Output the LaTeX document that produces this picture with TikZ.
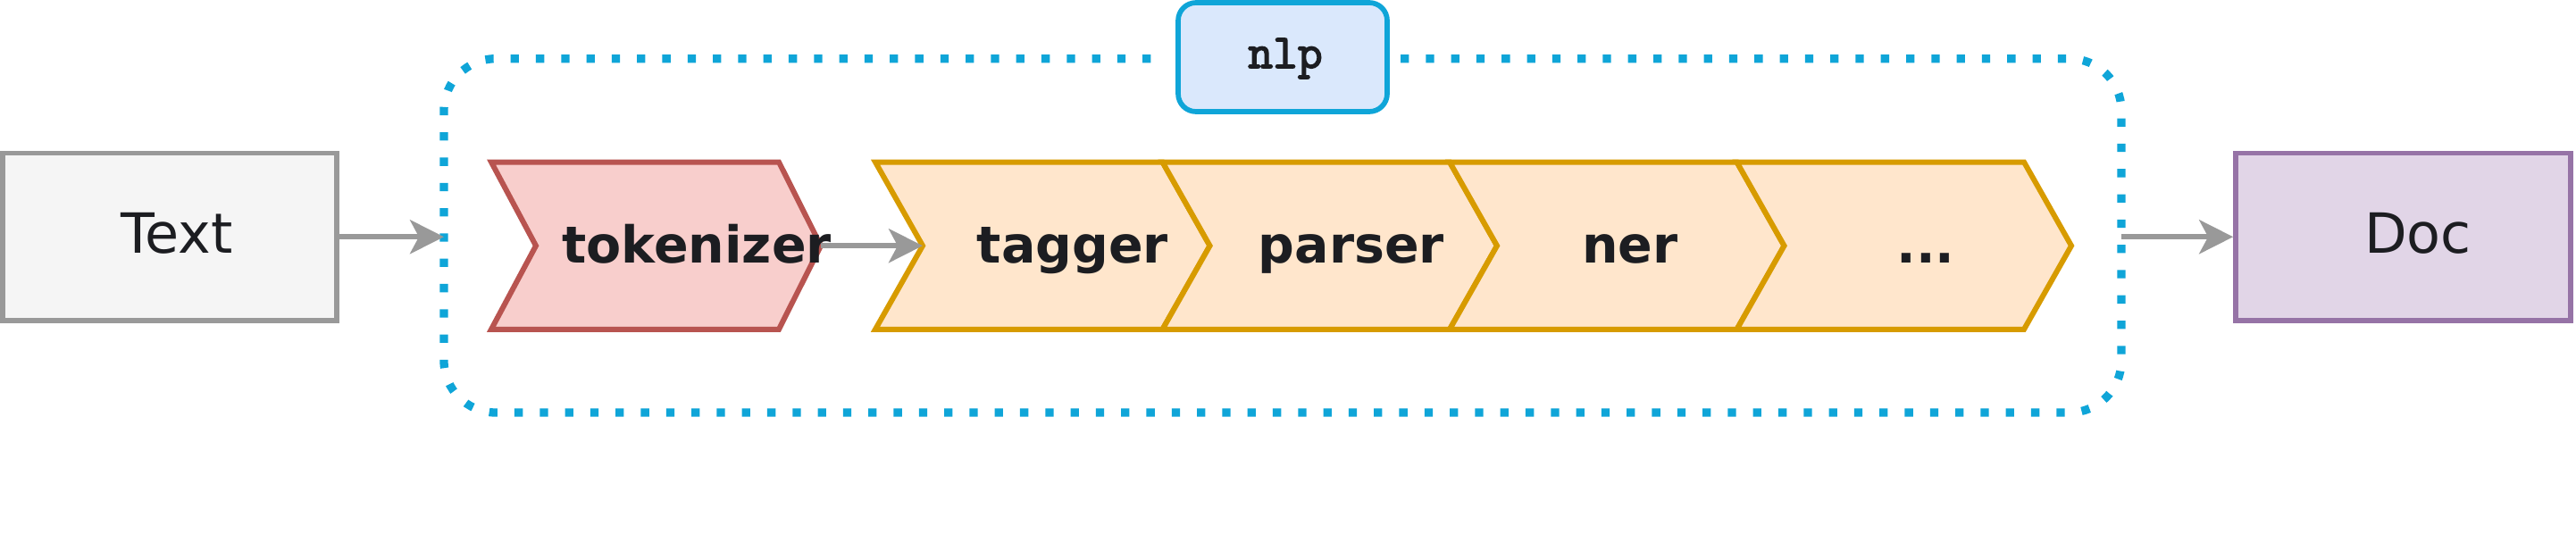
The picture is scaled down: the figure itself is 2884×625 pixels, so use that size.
\documentclass[tikz,border=0pt]{standalone}
\usepackage{fontspec}
\setmainfont{DejaVu Sans}
\newfontfamily\nlpfont{Latin Modern Mono}[FakeBold=3]
\usetikzlibrary{arrows.meta}
\definecolor{txt}{HTML}{1C1D21}
\definecolor{arrgray}{HTML}{999999}
\definecolor{grayF}{HTML}{F5F5F5}
\definecolor{redD}{HTML}{B85450}
\definecolor{redF}{HTML}{F8CECC}
\definecolor{orD}{HTML}{D79B00}
\definecolor{orF}{HTML}{FFE6CC}
\definecolor{purD}{HTML}{9673A6}
\definecolor{purF}{HTML}{E1D5E7}
\definecolor{bluD}{HTML}{0FA5D8}
\definecolor{bluF}{HTML}{DAE8FC}
\begin{document}
\begin{tikzpicture}[x=1pt,y=-1pt,
  iobox/.style={draw, line width=5.7pt, inner sep=0pt, minimum width=#1, minimum height=187.5pt},
  iolbl/.style={anchor=base, inner sep=0pt, text=txt, font=\fontsize{62}{62}\selectfont},
  steplbl/.style={anchor=base, inner sep=0pt, text=txt, font=\fontsize{57}{57}\selectfont\bfseries},
  redstep/.style={draw=redD, fill=redF, line width=6pt, line join=miter},
  orstep/.style={draw=orD, fill=orF, line width=6pt, line join=miter},
  conn/.style={draw=arrgray, line width=5.7pt, -{Stealth[length=38pt,width=38pt,inset=10pt]}},
  container/.style={draw=bluD, line width=9.3pt, dash pattern=on 9.3pt off 19pt, rounded corners=58pt}
]
\useasboundingbox (0,0) rectangle (2884,625);

% dotted pipeline container
\draw[container] (1568,65.7) -- (2375,65.7) -- (2375,462) -- (497,462) -- (497,65.7) -- (1297,65.7);
\coordinate (cin) at (497,265.25);
\coordinate (cout) at (2375,265.25);

% nlp label box
\node[draw=bluD, fill=bluF, line width=5.7pt, rounded corners=20pt, minimum width=234pt, minimum height=122pt, inner sep=0pt] (nlpbox) at (1436,64) {};
\node[anchor=base, inner sep=0pt, text=txt, font=\fontsize{54}{54}\selectfont\nlpfont] (nlp) at (1439,76) {nlp};

% input / output boxes
\node[iobox=374pt, draw=arrgray, fill=grayF] (textbox) at (190,265.25) {};
\node[iolbl] (textlbl) at (198,283) {Text};
\node[iobox=375pt, draw=purD, fill=purF] (docbox) at (2690.5,265.25) {};
\node[iolbl] (doclbl) at (2707,283) {Doc};

% pipeline steps
\draw[redstep] (550,181.5) -- (872,181.5) -- (919,275.2) -- (872,368.8) -- (550,368.8) -- (600,275.2) -- cycle;
\coordinate (toktip) at (919,275.2);
\draw[orstep] (980,181.5) -- (1301.5,181.5) -- (1354.5,275.2) -- (1301.5,368.8) -- (980,368.8) -- (1033,275.2) -- cycle;
\coordinate (tagnotch) at (1033,275.2);
\draw[orstep] (1301.5,181.5) -- (1623,181.5) -- (1676,275.2) -- (1623,368.8) -- (1301.5,368.8) -- (1354.5,275.2) -- cycle;
\draw[orstep] (1623,181.5) -- (1944.5,181.5) -- (1997.5,275.2) -- (1944.5,368.8) -- (1623,368.8) -- (1676,275.2) -- cycle;
\draw[orstep] (1944.5,181.5) -- (2266,181.5) -- (2319,275.2) -- (2266,368.8) -- (1944.5,368.8) -- (1997.5,275.2) -- cycle;

% connectors
\draw[conn] (textbox.east) -- (cin);
\draw[conn] (toktip) -- (tagnotch);
\draw[conn] (cout) -- (docbox.west);

% step labels
\node[steplbl] (tok) at (780,294) {tokenizer};
\node[steplbl] (tag) at (1201,294) {tagger};
\node[steplbl] (par) at (1513,294) {parser};
\node[steplbl] (ner) at (1825,294) {ner};
\node[steplbl] (more) at (2156,294) {...};
\end{tikzpicture}
\end{document}
